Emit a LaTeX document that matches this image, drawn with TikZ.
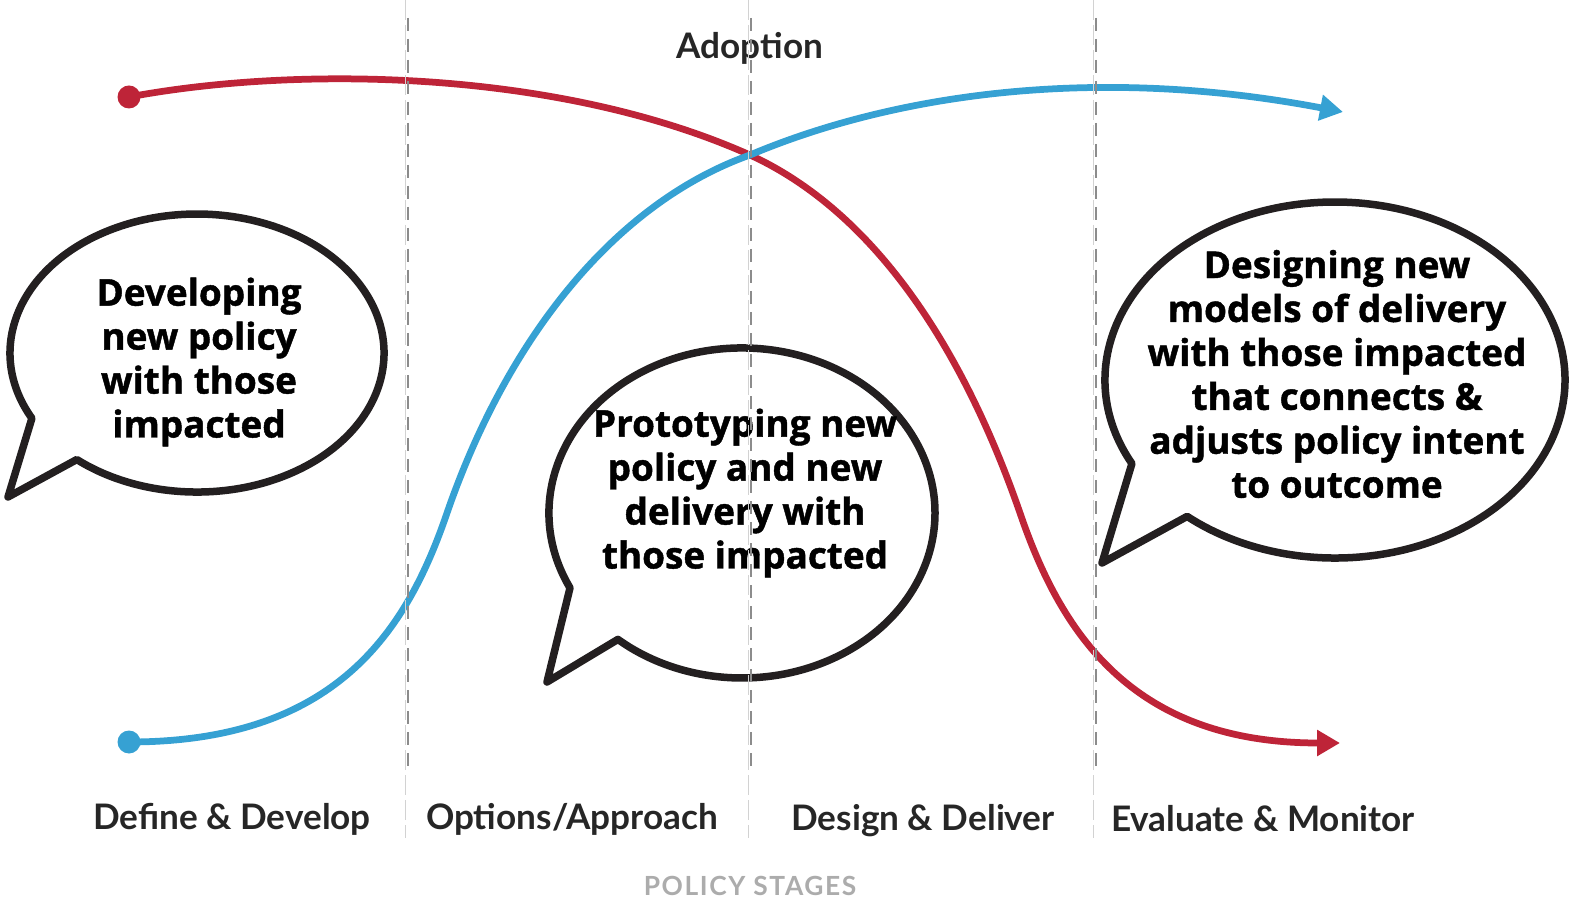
\documentclass[tikz,border=0pt]{standalone}
\usepackage{fontspec}
\setmainfont{Open Sans}[BoldFeatures={FakeBold=1.2}]
\newfontfamily\stagefont{Lato}
\newfontfamily\capsfont[LetterSpace=6]{Lato}
\usetikzlibrary{arrows.meta}
\definecolor{policyred}{RGB}{190,36,56}
\definecolor{policyblue}{RGB}{54,161,211}
\definecolor{inkblack}{RGB}{35,31,32}

\begin{document}
\begin{tikzpicture}[x=0.2mm, y=-0.2mm]

    \tikzset{
      dot/.style={
        circle,
        inner sep=0pt,
        minimum size=4.6mm,
      },
      curve/.style={line width=1.35mm, -{Triangle[length=4.6mm, width=5mm]}},
      bubble/.style={draw=inkblack, fill=white, line width=1.5mm, line join=round},
      bubbletext/.style={align=center, font=\bfseries\fontsize{21}{25}\selectfont},
      stage/.style={font=\stagefont\bfseries\fontsize{20}{23}\selectfont, text=black!85},
      divider/.style={draw=gray!90, line width=0.25mm, dash pattern=on 2.6mm off 1.6mm},
      faint/.style={draw=gray!35, line width=0.25mm, dash pattern=on 4mm off 1mm},
    }
    \useasboundingbox (0,0) rectangle (1571,901);

    % curves
    \node[dot, fill=policyred] (redstart) at (129,97) {};
    \node[dot, fill=policyblue] (bluestart) at (129,742) {};
    \coordinate (cross) at (750,155);
    \coordinate (redend) at (1340,743);
    \coordinate (blueend) at (1343,112);
    \draw[curve, policyred] (redstart.center) .. controls (300,65) and (560,70) .. (cross)
        .. controls (870,210) and (960,340) .. (1020,513)
        .. controls (1060,630) and (1130,743) .. (redend);
    \draw[curve, policyblue] (bluestart.center) .. controls (337,742) and (407,630) .. (447,513)
        .. controls (505,345) and (610,205) .. (cross)
        .. controls (880,100) and (1080,62) .. (blueend);

    % speech bubbles
    \draw[bubble] (31.9,418.3) arc[start angle=152, end angle=490, x radius=187, y radius=139] -- (8,497) -- cycle;
    \draw[bubble] (570.0,587.9) arc[start angle=153, end angle=490, x radius=193, y radius=165] -- (547,682) -- cycle;
    \draw[bubble] (1131.9,463.6) arc[start angle=152, end angle=490, x radius=230, y radius=178] -- (1102,563) -- cycle;
    \node[bubbletext] (develop) at (199,362) {Developing\\new policy\\with those\\impacted};
    \node[bubbletext] (prototype) at (745,493) {Prototyping new\\policy and new\\delivery with\\those impacted};
    \node[bubbletext] (design) at (1337,374) {Designing new\\models of delivery\\with those impacted\\that connects \&\\adjusts policy intent\\to outcome};

    % labels
    \node[stage] (adoption) at (750,48) {Adoption};
    \node[stage] (define) at (232,819) {Define \& Develop};
    \node[stage] (options) at (572,819) {Options/Approach};
    \node[stage] (deliver) at (923,821) {Design \& Deliver};
    \node[stage] (evaluate) at (1263,819) {Evaluate \& Monitor};
    \node[font=\capsfont\bfseries\fontsize{15}{17}\selectfont, text=gray!65] (stages) at (750,886) {POLICY STAGES};

    % stage dividers
    \foreach \x in {407,750,1095} {
      \draw[faint] (\x-1.5,0) -- (\x-1.5,838);
      \draw[divider] (\x+1,18) -- (\x+1,772);
    }

\end{tikzpicture}
\end{document}
